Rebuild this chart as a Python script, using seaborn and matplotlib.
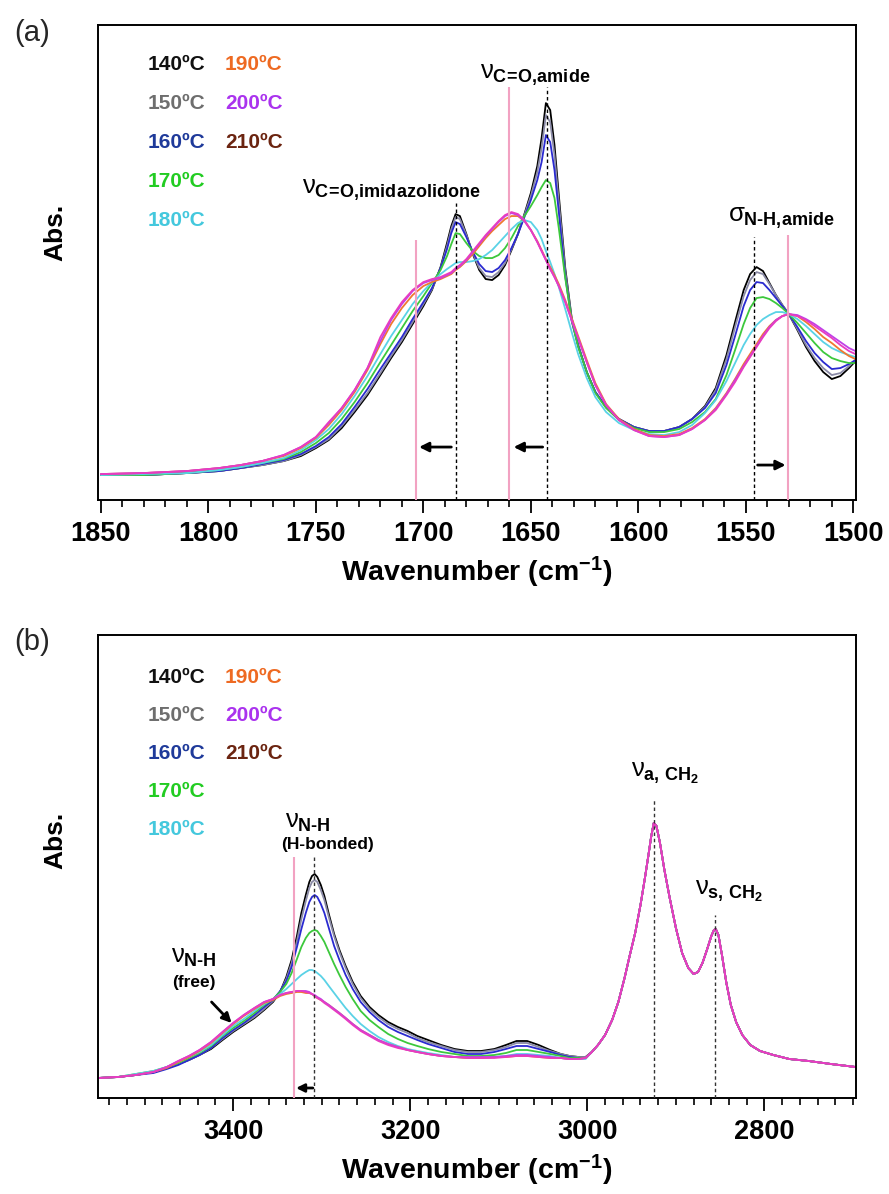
import matplotlib
matplotlib.use("Agg")
import matplotlib.pyplot as plt
import seaborn as sns
import pandas as pd
from matplotlib.ticker import MultipleLocator

# ---------------- data ----------------
temps = ["140ºC", "150ºC", "160ºC", "170ºC", "180ºC", "190ºC", "200ºC", "210ºC"]

# panel (a): 1850-1500 cm-1
wn_a = [1850, 1830, 1810, 1795, 1785, 1775, 1765, 1757, 1750, 1744,
        1738, 1732, 1726, 1720, 1715, 1710, 1705, 1700, 1696, 1692,
        1689, 1687, 1685, 1683, 1680, 1677, 1674, 1671, 1668, 1665,
        1662, 1659, 1656, 1653, 1650, 1647, 1645, 1643, 1641, 1639,
        1637, 1634, 1631, 1628, 1624, 1620, 1615, 1609, 1602, 1595,
        1588, 1581, 1575, 1569, 1564, 1559, 1555, 1551, 1548, 1545,
        1542, 1539, 1536, 1533, 1530, 1526, 1522, 1518, 1514, 1510,
        1506, 1502, 1499]
a_140 = [0.025, 0.025, 0.027, 0.029, 0.032, 0.035, 0.039, 0.044, 0.052, 0.060,
         0.072, 0.088, 0.105, 0.125, 0.142, 0.158, 0.176, 0.194, 0.210, 0.233,
         0.257, 0.274, 0.286, 0.284, 0.266, 0.246, 0.230, 0.221, 0.220, 0.225,
         0.235, 0.250, 0.266, 0.286, 0.307, 0.334, 0.362, 0.397, 0.390, 0.355,
         0.305, 0.232, 0.182, 0.155, 0.128, 0.108, 0.093, 0.081, 0.073, 0.069,
         0.069, 0.073, 0.081, 0.094, 0.112, 0.145, 0.178, 0.210, 0.226, 0.233,
         0.229, 0.217, 0.205, 0.195, 0.186, 0.170, 0.153, 0.139, 0.128, 0.121,
         0.124, 0.132, 0.139]
a_150 = [0.025, 0.025, 0.027, 0.029, 0.032, 0.035, 0.039, 0.045, 0.053, 0.061,
         0.074, 0.090, 0.107, 0.127, 0.144, 0.160, 0.178, 0.196, 0.211, 0.232,
         0.254, 0.271, 0.283, 0.281, 0.265, 0.247, 0.232, 0.224, 0.223, 0.228,
         0.237, 0.251, 0.266, 0.285, 0.304, 0.328, 0.352, 0.385, 0.378, 0.345,
         0.298, 0.229, 0.181, 0.155, 0.128, 0.108, 0.093, 0.081, 0.073, 0.069,
         0.069, 0.073, 0.081, 0.093, 0.110, 0.141, 0.173, 0.204, 0.220, 0.228,
         0.226, 0.216, 0.205, 0.195, 0.186, 0.171, 0.155, 0.142, 0.132, 0.125,
         0.127, 0.134, 0.140]
a_160 = [0.025, 0.025, 0.027, 0.029, 0.032, 0.036, 0.040, 0.046, 0.054, 0.063,
         0.076, 0.093, 0.111, 0.131, 0.147, 0.163, 0.181, 0.198, 0.212, 0.232,
         0.251, 0.267, 0.278, 0.276, 0.263, 0.248, 0.236, 0.229, 0.228, 0.232,
         0.240, 0.252, 0.266, 0.283, 0.300, 0.320, 0.338, 0.365, 0.358, 0.330,
         0.288, 0.224, 0.179, 0.154, 0.128, 0.108, 0.093, 0.081, 0.073, 0.069,
         0.069, 0.073, 0.081, 0.092, 0.107, 0.135, 0.164, 0.194, 0.210, 0.218,
         0.217, 0.210, 0.202, 0.194, 0.186, 0.173, 0.159, 0.147, 0.138, 0.131,
         0.132, 0.136, 0.140]
a_170 = [0.025, 0.025, 0.027, 0.030, 0.033, 0.037, 0.041, 0.048, 0.057, 0.067,
         0.081, 0.098, 0.117, 0.138, 0.155, 0.172, 0.189, 0.204, 0.217, 0.230,
         0.244, 0.256, 0.267, 0.266, 0.257, 0.249, 0.244, 0.242, 0.242, 0.245,
         0.252, 0.262, 0.274, 0.284, 0.294, 0.305, 0.313, 0.320, 0.317, 0.302,
         0.272, 0.222, 0.180, 0.153, 0.128, 0.107, 0.092, 0.080, 0.072, 0.068,
         0.068, 0.071, 0.078, 0.088, 0.101, 0.125, 0.150, 0.176, 0.192, 0.202,
         0.203, 0.201, 0.197, 0.192, 0.186, 0.177, 0.167, 0.157, 0.148, 0.142,
         0.139, 0.137, 0.137]
a_180 = [0.025, 0.026, 0.027, 0.030, 0.033, 0.037, 0.042, 0.050, 0.060, 0.071,
         0.086, 0.104, 0.124, 0.146, 0.164, 0.180, 0.196, 0.209, 0.218, 0.226,
         0.231, 0.234, 0.237, 0.238, 0.238, 0.239, 0.241, 0.245, 0.250, 0.257,
         0.264, 0.271, 0.277, 0.280, 0.278, 0.270, 0.261, 0.249, 0.238, 0.226,
         0.213, 0.191, 0.168, 0.146, 0.122, 0.103, 0.088, 0.077, 0.070, 0.066,
         0.065, 0.068, 0.075, 0.087, 0.100, 0.119, 0.137, 0.155, 0.166, 0.175,
         0.181, 0.185, 0.188, 0.188, 0.186, 0.181, 0.174, 0.166, 0.158, 0.152,
         0.148, 0.145, 0.143]
a_190 = [0.026, 0.027, 0.029, 0.032, 0.035, 0.039, 0.044, 0.052, 0.062, 0.075,
         0.090, 0.108, 0.130, 0.156, 0.176, 0.192, 0.205, 0.214, 0.218, 0.221,
         0.224, 0.226, 0.230, 0.233, 0.239, 0.246, 0.254, 0.262, 0.269, 0.275,
         0.281, 0.284, 0.284, 0.279, 0.270, 0.259, 0.250, 0.241, 0.233, 0.225,
         0.216, 0.200, 0.182, 0.164, 0.140, 0.117, 0.096, 0.081, 0.071, 0.065,
         0.064, 0.066, 0.072, 0.081, 0.092, 0.107, 0.121, 0.136, 0.146, 0.156,
         0.166, 0.174, 0.180, 0.184, 0.186, 0.184, 0.178, 0.171, 0.163, 0.157,
         0.150, 0.144, 0.141]
a_200 = [0.026, 0.027, 0.029, 0.032, 0.035, 0.039, 0.045, 0.053, 0.063, 0.077,
         0.092, 0.110, 0.132, 0.159, 0.180, 0.196, 0.209, 0.217, 0.220, 0.222,
         0.225, 0.227, 0.231, 0.234, 0.240, 0.248, 0.256, 0.264, 0.271, 0.278,
         0.284, 0.287, 0.285, 0.279, 0.270, 0.258, 0.249, 0.240, 0.231, 0.223,
         0.214, 0.198, 0.180, 0.162, 0.138, 0.115, 0.095, 0.080, 0.070, 0.064,
         0.063, 0.065, 0.071, 0.080, 0.091, 0.106, 0.120, 0.134, 0.144, 0.154,
         0.164, 0.173, 0.180, 0.184, 0.186, 0.185, 0.181, 0.176, 0.170, 0.164,
         0.158, 0.152, 0.149]
a_210 = [0.026, 0.027, 0.029, 0.032, 0.035, 0.039, 0.045, 0.053, 0.063, 0.078,
         0.092, 0.110, 0.132, 0.163, 0.182, 0.198, 0.210, 0.218, 0.221, 0.223,
         0.226, 0.228, 0.232, 0.235, 0.241, 0.249, 0.257, 0.265, 0.272, 0.279,
         0.285, 0.288, 0.286, 0.280, 0.270, 0.258, 0.249, 0.240, 0.231, 0.223,
         0.214, 0.198, 0.180, 0.162, 0.138, 0.115, 0.095, 0.080, 0.070, 0.064,
         0.063, 0.065, 0.071, 0.080, 0.090, 0.105, 0.118, 0.133, 0.143, 0.153,
         0.163, 0.172, 0.179, 0.184, 0.186, 0.184, 0.180, 0.174, 0.168, 0.162,
         0.155, 0.149, 0.146]

# panel (b): N-H region (temperature dependent)
wn_b_nh = [3553, 3530, 3510, 3490, 3475, 3462, 3450, 3438, 3425, 3412,
           3400, 3388, 3376, 3365, 3355, 3347, 3340, 3334, 3328, 3323,
           3318, 3314, 3311, 3308, 3305, 3301, 3297, 3292, 3286, 3280,
           3273, 3265, 3256, 3246, 3236, 3225, 3214, 3203, 3192, 3180,
           3165, 3150, 3135, 3120, 3105, 3092, 3080, 3068, 3055, 3042,
           3030, 3020, 3010, 3002]
b_140 = [0.020, 0.021, 0.023, 0.026, 0.030, 0.034, 0.038, 0.043, 0.049, 0.058,
         0.066, 0.073, 0.080, 0.088, 0.096, 0.106, 0.121, 0.138, 0.162, 0.185,
         0.203, 0.216, 0.222, 0.224, 0.221, 0.213, 0.202, 0.184, 0.164, 0.148,
         0.132, 0.116, 0.102, 0.091, 0.083, 0.076, 0.071, 0.067, 0.062, 0.058,
         0.053, 0.049, 0.047, 0.047, 0.049, 0.053, 0.057, 0.057, 0.053, 0.048,
         0.044, 0.042, 0.041, 0.041]
b_150 = [0.020, 0.021, 0.023, 0.026, 0.030, 0.034, 0.038, 0.043, 0.050, 0.059,
         0.067, 0.074, 0.081, 0.089, 0.097, 0.106, 0.119, 0.135, 0.157, 0.179,
         0.197, 0.210, 0.216, 0.218, 0.216, 0.208, 0.198, 0.181, 0.162, 0.146,
         0.130, 0.114, 0.100, 0.089, 0.081, 0.074, 0.069, 0.065, 0.060, 0.056,
         0.052, 0.048, 0.046, 0.046, 0.048, 0.051, 0.055, 0.055, 0.051, 0.047,
         0.044, 0.042, 0.041, 0.041]
b_160 = [0.020, 0.021, 0.023, 0.025, 0.029, 0.033, 0.038, 0.043, 0.050, 0.060,
         0.068, 0.075, 0.083, 0.091, 0.098, 0.107, 0.117, 0.131, 0.151, 0.169,
         0.185, 0.196, 0.201, 0.203, 0.201, 0.194, 0.185, 0.170, 0.152, 0.138,
         0.123, 0.109, 0.096, 0.086, 0.078, 0.071, 0.066, 0.062, 0.058, 0.054,
         0.050, 0.046, 0.044, 0.044, 0.046, 0.049, 0.052, 0.052, 0.049, 0.046,
         0.043, 0.041, 0.040, 0.040]
b_170 = [0.020, 0.021, 0.024, 0.027, 0.031, 0.035, 0.040, 0.045, 0.052, 0.062,
         0.070, 0.077, 0.085, 0.093, 0.099, 0.106, 0.114, 0.125, 0.139, 0.151,
         0.160, 0.165, 0.167, 0.168, 0.167, 0.162, 0.156, 0.146, 0.134, 0.123,
         0.111, 0.099, 0.087, 0.078, 0.071, 0.064, 0.059, 0.055, 0.052, 0.049,
         0.046, 0.044, 0.042, 0.042, 0.043, 0.045, 0.048, 0.048, 0.046, 0.044,
         0.042, 0.040, 0.040, 0.040]
b_180 = [0.020, 0.021, 0.024, 0.027, 0.031, 0.036, 0.041, 0.046, 0.053, 0.063,
         0.072, 0.079, 0.087, 0.094, 0.099, 0.104, 0.109, 0.114, 0.119, 0.123,
         0.126, 0.128, 0.128, 0.127, 0.125, 0.122, 0.118, 0.112, 0.105, 0.098,
         0.090, 0.082, 0.074, 0.067, 0.061, 0.056, 0.052, 0.049, 0.047, 0.045,
         0.043, 0.041, 0.040, 0.040, 0.041, 0.042, 0.044, 0.044, 0.043, 0.042,
         0.040, 0.039, 0.039, 0.039]
b_190 = [0.020, 0.021, 0.023, 0.026, 0.030, 0.036, 0.041, 0.047, 0.055, 0.065,
         0.074, 0.082, 0.089, 0.095, 0.098, 0.102, 0.104, 0.105, 0.106, 0.106,
         0.105, 0.105, 0.104, 0.102, 0.100, 0.098, 0.096, 0.093, 0.089, 0.085,
         0.080, 0.074, 0.068, 0.063, 0.058, 0.054, 0.051, 0.048, 0.046, 0.044,
         0.042, 0.041, 0.040, 0.040, 0.041, 0.041, 0.042, 0.042, 0.041, 0.040,
         0.040, 0.039, 0.039, 0.040]
b_200 = [0.020, 0.021, 0.023, 0.026, 0.031, 0.037, 0.042, 0.048, 0.056, 0.066,
         0.075, 0.083, 0.090, 0.096, 0.099, 0.103, 0.105, 0.106, 0.107, 0.107,
         0.107, 0.106, 0.104, 0.103, 0.101, 0.099, 0.096, 0.093, 0.089, 0.085,
         0.080, 0.074, 0.068, 0.063, 0.058, 0.054, 0.051, 0.048, 0.046, 0.044,
         0.042, 0.041, 0.041, 0.041, 0.041, 0.042, 0.043, 0.043, 0.042, 0.041,
         0.040, 0.039, 0.039, 0.040]
b_210 = [0.020, 0.021, 0.023, 0.026, 0.031, 0.037, 0.042, 0.048, 0.056, 0.066,
         0.075, 0.083, 0.090, 0.096, 0.099, 0.103, 0.105, 0.106, 0.107, 0.107,
         0.106, 0.105, 0.104, 0.102, 0.100, 0.098, 0.095, 0.092, 0.088, 0.084,
         0.079, 0.073, 0.067, 0.062, 0.057, 0.053, 0.050, 0.048, 0.046, 0.044,
         0.042, 0.041, 0.040, 0.040, 0.040, 0.041, 0.042, 0.042, 0.041, 0.040,
         0.040, 0.039, 0.039, 0.040]
# panel (b): CH2 stretching region (identical for all temperatures)
wn_b_ch = [2995, 2988, 2980, 2972, 2965, 2958, 2952, 2946, 2940, 2935,
           2931, 2928, 2925, 2922, 2918, 2913, 2907, 2900, 2893, 2886,
           2880, 2875, 2870, 2865, 2860, 2857, 2855, 2852, 2848, 2843,
           2838, 2832, 2825, 2816, 2805, 2790, 2772, 2750, 2725, 2697]
b_ch = [0.046, 0.053, 0.063, 0.078, 0.096, 0.120, 0.143, 0.165, 0.193, 0.220,
        0.243, 0.261, 0.275, 0.272, 0.255, 0.228, 0.200, 0.170, 0.145, 0.130,
        0.124, 0.126, 0.135, 0.148, 0.162, 0.168, 0.169, 0.163, 0.143, 0.115,
        0.093, 0.076, 0.063, 0.053, 0.047, 0.043, 0.039, 0.037, 0.034, 0.031]

series_a = [a_140, a_150, a_160, a_170, a_180, a_190, a_200, a_210]
series_b = [b_140, b_150, b_160, b_170, b_180, b_190, b_200, b_210]

line_colors = ["#000000", "#8a8aa6", "#2a2ad0", "#3cc83c", "#5ad2e6",
               "#f07830", "#c040e8", "#e83cc0"]
label_colors = ["#111111", "#6e6e6e", "#1f3a9a", "#22cc22", "#44c8dd",
                "#ee6a22", "#aa33ee", "#6b2410"]

# ---------------- style ----------------
sns.set_theme(style="white")
plt.rcParams["font.family"] = ["Liberation Sans", "DejaVu Sans"]
plt.rcParams.update({
    "mathtext.fontset": "custom",
    "mathtext.rm": "Liberation Sans",
    "mathtext.it": "Liberation Sans",
    "mathtext.bf": "Liberation Sans:bold",
})

fig = plt.figure(figsize=(8.89, 11.94), dpi=100)
ax_a = fig.add_axes([0.1099, 0.5812, 0.8526, 0.3978])
ax_b = fig.add_axes([0.1099, 0.0804, 0.8526, 0.3878])


def long_frame(wn, series):
    rows = []
    for t, vals in zip(temps, series):
        for x, y in zip(wn, vals):
            rows.append((t, x, y))
    return pd.DataFrame(rows, columns=["T", "wn", "A"])


df_a = long_frame(wn_a, series_a)
df_b = long_frame(wn_b_nh + wn_b_ch, [s + b_ch for s in series_b])
pal = dict(zip(temps, line_colors))

for ax, df in ((ax_a, df_a), (ax_b, df_b)):
    sns.lineplot(data=df, x="wn", y="A", hue="T", hue_order=temps, palette=pal,
                 estimator=None, linewidth=1.3, legend=False, ax=ax)

ax_a.set_xlim(1851.5, 1498.9)
ax_a.set_ylim(0, 0.475)
ax_b.set_xlim(3553, 2697)
ax_b.set_ylim(0, 0.463)
ax_a.xaxis.set_major_locator(MultipleLocator(50))
ax_a.xaxis.set_minor_locator(MultipleLocator(10))
ax_b.xaxis.set_major_locator(MultipleLocator(200))
ax_b.xaxis.set_minor_locator(MultipleLocator(20))

for ax in (ax_a, ax_b):
    ax.set_yticks([])
    for sp in ax.spines.values():
        sp.set_visible(True)
        sp.set_color("black")
        sp.set_linewidth(1.4)
    ax.tick_params(axis="x", which="major", bottom=True, length=9, width=1.3,
                   direction="out", pad=6, labelsize=19.5, colors="black")
    ax.tick_params(axis="x", which="minor", bottom=True, length=5, width=1.2,
                   direction="out", colors="black")
    for lab in ax.get_xticklabels():
        lab.set_fontweight("bold")
    ax.set_xlabel(r"Wavenumber (cm$^{\mathbf{-1}}$)", fontsize=20.5,
                  fontweight="bold", labelpad=6, color="black")
    ax.set_ylabel("Abs.", fontsize=19, fontweight="bold", color="black")

ax_a.yaxis.set_label_coords(-0.040, 0.564)
ax_b.yaxis.set_label_coords(-0.040, 0.557)

# temperature labels
col_x = [0.0664, 0.168]
rows_a = [0.916, 0.835, 0.753, 0.670, 0.589]
rows_b = [0.909, 0.827, 0.745, 0.661, 0.579]
for ax, rows in ((ax_a, rows_a), (ax_b, rows_b)):
    for i, (t, c) in enumerate(zip(temps, label_colors)):
        cx = col_x[0] if i < 5 else col_x[1]
        ry = rows[i] if i < 5 else rows[i - 5]
        ax.text(cx, ry, t, transform=ax.transAxes, color=c, fontsize=15,
                fontweight="bold", ha="left", va="center")

# reference lines panel (a)
pink = "#f2a2c2"
dash = (0, (2.5, 2))
ax_a.vlines([1685, 1642.5, 1546], 0, [0.297, 0.413, 0.263], colors="black",
            linestyles=dash, linewidth=1.0, zorder=4)
ax_a.vlines([1703.5, 1660, 1530.5], 0, [0.260, 0.413, 0.265], colors=pink,
            linewidth=1.5, zorder=4)
arrow = dict(arrowstyle="-|>", color="black", lw=2.0, mutation_scale=14,
             shrinkA=0, shrinkB=0)
ax_a.annotate("", xy=(1702, 0.053), xytext=(1687, 0.053), arrowprops=arrow)
ax_a.annotate("", xy=(1658, 0.053), xytext=(1644.5, 0.053), arrowprops=arrow)
ax_a.annotate("", xy=(1531.5, 0.035), xytext=(1544.5, 0.035), arrowprops=arrow)

ax_a.text(1715, 0.310, r"$\nu_{\mathbf{C\!=\!O,\!imidazolidone}}$", fontsize=18.5,
          ha="center", va="center", color="black")
ax_a.text(1648, 0.425, r"$\nu_{\mathbf{C\!=\!O,\!amide}}$", fontsize=18.5,
          ha="center", va="center", color="black")
ax_a.text(1533.6, 0.282, r"$\sigma_{\mathbf{N‐H,\!amide}}$", fontsize=18.5,
          ha="center", va="center", color="black")

# reference lines panel (b)
ax_b.vlines([3331], 0, 0.241, colors=pink, linewidth=1.5, zorder=4)
ax_b.vlines([3308.5, 2925, 2856], 0, [0.241, 0.298, 0.183], colors="#333333",
            linestyles=dash, linewidth=1.0, zorder=4)
ax_b.annotate("", xy=(3329, 0.010), xytext=(3310, 0.010),
              arrowprops=dict(arrow, mutation_scale=12))
ax_b.annotate("", xy=(3401.8, 0.075), xytext=(3424.4, 0.096),
              arrowprops=dict(arrow, mutation_scale=14))

ax_b.text(3315.7, 0.276, r"$\nu_{\mathbf{N‐H}}$", fontsize=18.5,
          ha="center", va="center", color="black")
ax_b.text(3293, 0.253, "(H-bonded)", fontsize=12.5, fontweight="bold",
          ha="center", va="center", color="black")
ax_b.text(3444, 0.141, r"$\nu_{\mathbf{N‐H}}$", fontsize=18.5,
          ha="center", va="center", color="black")
ax_b.text(3444, 0.115, "(free)", fontsize=12.5, fontweight="bold",
          ha="center", va="center", color="black")
ax_b.text(2912.6, 0.325, r"$\nu_{\mathbf{a,\,CH_2}}$", fontsize=18.5,
          ha="center", va="center", color="black")
ax_b.text(2840.3, 0.207, r"$\nu_{\mathbf{s,\,CH_2}}$", fontsize=18.5,
          ha="center", va="center", color="black")

fig.text(32 / 889, 1 - 33 / 1194, "(a)", fontsize=21, ha="center", va="center")
fig.text(32 / 889, 1 - 642 / 1194, "(b)", fontsize=21, ha="center", va="center")

fig.savefig("out.png", dpi=100, facecolor="white")
